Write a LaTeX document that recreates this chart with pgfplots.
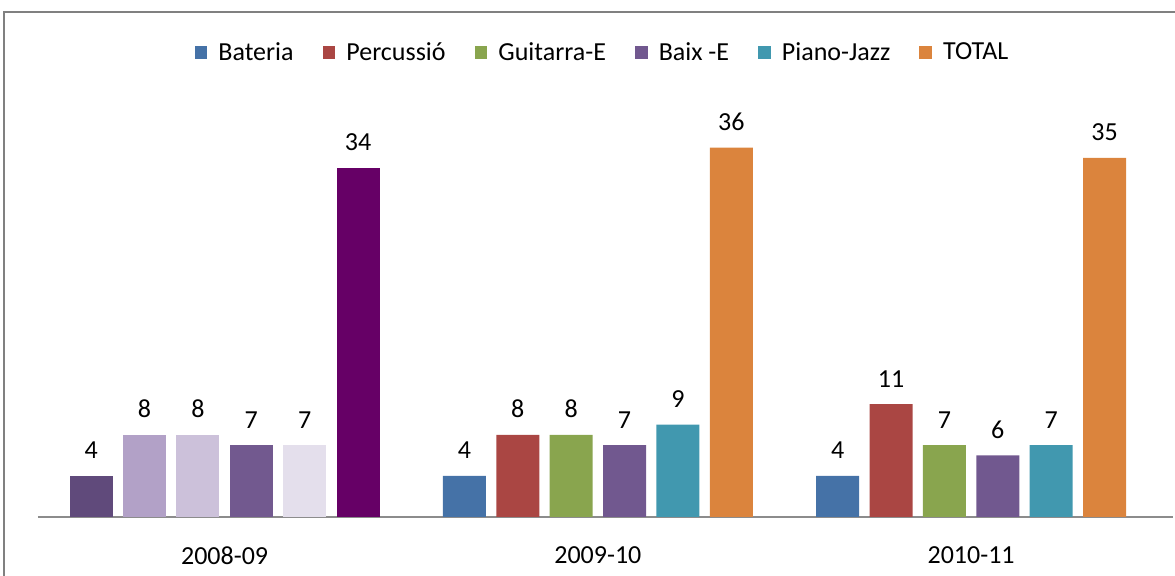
\documentclass[border=0pt]{standalone}
\usepackage{pgfplots}
\pgfplotsset{compat=1.18}
\usepackage{fontspec}
\setmainfont{Carlito}
\definecolor{cBat}{HTML}{4572A7}
\definecolor{cPer}{HTML}{AA4643}
\definecolor{cGui}{HTML}{89A54E}
\definecolor{cBai}{HTML}{71588F}
\definecolor{cPia}{HTML}{4198AF}
\definecolor{cTot}{HTML}{DB843D}
\definecolor{pA}{HTML}{604A7B}
\definecolor{pB}{HTML}{B2A1C7}
\definecolor{pC}{HTML}{CCC1DA}
\definecolor{pD}{HTML}{72598F}
\definecolor{pE}{HTML}{E4DFEC}
\definecolor{pF}{HTML}{660066}
\begin{document}
\begin{tikzpicture}
\path[use as bounding box] (0,0) rectangle (587.5pt,288pt);
\draw[color=black!50, line width=0.8pt] (2pt,0) -- (2pt,282pt) -- (587.5pt,282pt);
\begin{axis}[
  at={(19pt,29.5pt)}, anchor=south west,
  scale only axis, width=567.7pt, height=205.2pt,
  xmin=-0.5, xmax=2.542, ymin=0, ymax=40,
  ybar, bar width=21.5pt,
  axis x line*=bottom, axis y line=none,
  x axis line style={color=black!45, line width=1pt, -},
  xtick={0,1,2}, xticklabels={2008-09,2009-10,2010-11},
  xtick style={draw=none},
  xticklabel style={yshift=-7pt},
  every tick label/.append style={font=\fontsize{13}{15}\selectfont},
  nodes near coords,
  /pgf/number format/assume math mode=true,
  every node near coord/.append style={font=\fontsize{13}{15}\selectfont, text=black, yshift=5pt},
  clip=false,
  legend style={at={(axis description cs:0.498,1)}, anchor=center, yshift=27pt,
    draw=none, font=\fontsize{13}{15}\selectfont, legend columns=-1,
    /tikz/every odd column/.append style={column sep=3.5pt},
    /tikz/every even column/.append style={column sep=12.5pt}},
  legend image code/.code={\fill[#1] (0pt,-3.2pt) rectangle (6.4pt,3.2pt);},
]
\addplot[bar shift=-66.75pt, fill=cBat, draw=none] coordinates {(1,4) (2,4)};
\addplot[bar shift=-40.05pt, fill=cPer, draw=none] coordinates {(1,8) (2,11)};
\addplot[bar shift=-13.35pt, fill=cGui, draw=none] coordinates {(1,8) (2,7)};
\addplot[bar shift=13.35pt, fill=cBai, draw=none] coordinates {(1,7) (2,6)};
\addplot[bar shift=40.05pt, fill=cPia, draw=none] coordinates {(1,9) (2,7)};
\addplot[bar shift=66.75pt, fill=cTot, draw=none] coordinates {(1,36) (2,35)};
\legend{Bateria,Percussió,Guitarra-E,Baix -E,Piano-Jazz,TOTAL}
\addplot[forget plot, bar shift=-66.75pt, fill=pA, draw=none] coordinates {(0,4)};
\addplot[forget plot, bar shift=-40.05pt, fill=pB, draw=none] coordinates {(0,8)};
\addplot[forget plot, bar shift=-13.35pt, fill=pC, draw=none] coordinates {(0,8)};
\addplot[forget plot, bar shift=13.35pt, fill=pD, draw=none] coordinates {(0,7)};
\addplot[forget plot, bar shift=40.05pt, fill=pE, draw=none] coordinates {(0,7)};
\addplot[forget plot, bar shift=66.75pt, fill=pF, draw=none] coordinates {(0,34)};
\end{axis}
\end{tikzpicture}
\end{document}
